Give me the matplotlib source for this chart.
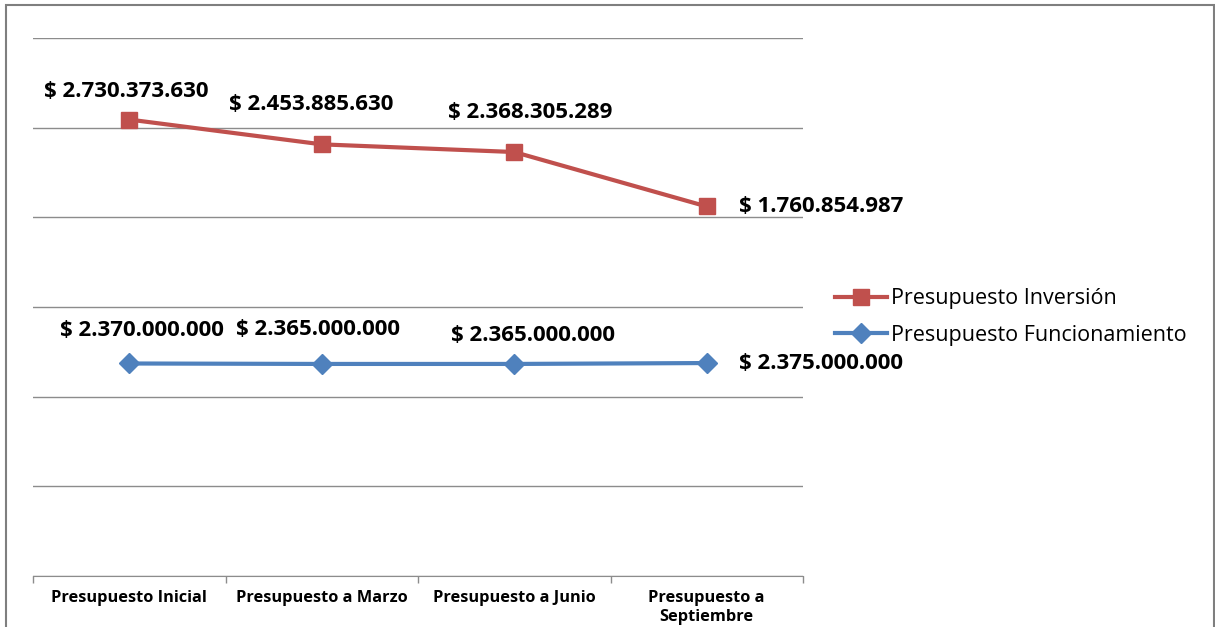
import matplotlib
matplotlib.use("Agg")
import matplotlib.pyplot as plt
from matplotlib.patches import Rectangle

categorias = ["Presupuesto Inicial", "Presupuesto a Marzo", "Presupuesto a Junio", "Presupuesto a\nSeptiembre"]
inversion = [2730373630, 2453885630, 2368305289, 1760854987]
funcionamiento = [2370000000, 2365000000, 2365000000, 2375000000]

ROJO = "#C0504D"
AZUL = "#4F81BD"
GRIS = "#8C8C8C"


def etiqueta(valor):
    return "$ " + f"{valor:,}".replace(",", ".")


W, H = 1215, 627
fig = plt.figure(figsize=(W / 100, H / 100), dpi=100)
plt.rcParams['font.family'] = ['Open Sans', 'DejaVu Sans']

# borde del grafico
fig.patches.append(Rectangle((6 / W, -0.05), 1208 / W, 1.05 - 5 / H, transform=fig.transFigure,
                             fill=False, edgecolor="#7F7F7F", linewidth=1.5))

ax = fig.add_axes([33 / W, (H - 576) / H, 770 / W, 538 / H])
ax2 = ax.twinx()

x = list(range(len(categorias)))

# eje principal: funcionamiento
ax.set_ylim(0, 6e9)
ax.set_yticks([i * 1e9 for i in range(7)])
ax.yaxis.grid(True, color=GRIS, linewidth=1)
ax.set_axisbelow(True)
ax.tick_params(axis="y", left=False, labelleft=False)
ax.set_xlim(-0.5, 3.5)
ax.set_xticks(x)
ax.set_xticklabels(categorias, fontsize=11.8, fontweight="bold", linespacing=1.3)
ax.tick_params(axis="x", length=0, pad=10)
ax.set_xticks([-0.5, 0.5, 1.5, 2.5, 3.5], minor=True)
ax.tick_params(axis="x", which="minor", length=5, color=GRIS, width=1)
for s in ["top", "left", "right"]:
    ax.spines[s].set_visible(False)
ax.spines["bottom"].set_color(GRIS)

# eje secundario: inversion
ax2.set_ylim(-2.36e9, 3.64e9)
ax2.set_yticks([])
for s in ax2.spines.values():
    s.set_visible(False)

l2, = ax.plot(x, funcionamiento, color=AZUL, linewidth=3, marker="D", markersize=10,
              label="Presupuesto Funcionamiento")
l1, = ax2.plot(x, inversion, color=ROJO, linewidth=3, marker="s", markersize=12,
               label="Presupuesto Inversión")

off_inv = [(-3, 28), (-11, 40), (16, 40), (114, 0)]
off_fun = [(13, 33), (-4, 34), (19, 28), (114, 0)]
for i in x:
    ax2.annotate(etiqueta(inversion[i]), (x[i], inversion[i]), xytext=off_inv[i],
                 textcoords="offset pixels", ha="center", va="center",
                 fontsize=16, fontweight="bold")
    ax.annotate(etiqueta(funcionamiento[i]), (x[i], funcionamiento[i]), xytext=off_fun[i],
                textcoords="offset pixels", ha="center", va="center",
                fontsize=16, fontweight="bold")

fig.legend([l1, l2], ["Presupuesto Inversión", "Presupuesto Funcionamiento"],
           loc="center left", bbox_to_anchor=(816 / W, 1 - 317 / H), frameon=False,
           fontsize=15.5, handlelength=2.4, handletextpad=0.2, labelspacing=0.72)

fig.savefig("out.png", dpi=100)
